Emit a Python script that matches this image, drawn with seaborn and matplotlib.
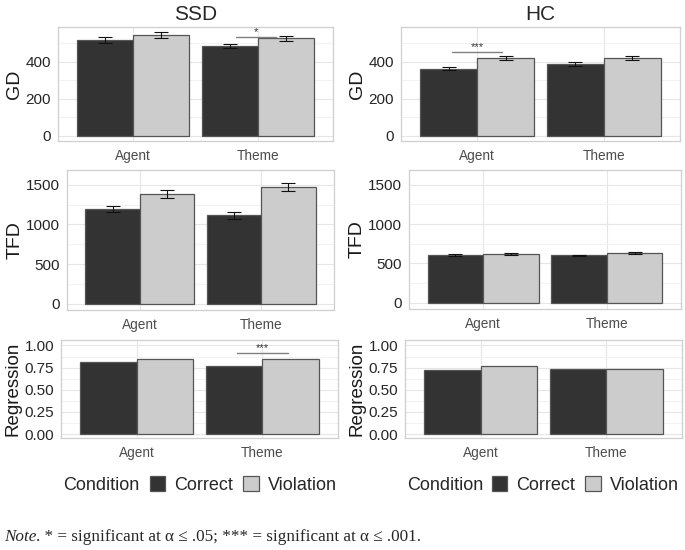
import itertools
import pandas as pd
import numpy as np
import matplotlib
matplotlib.use('Agg')
import matplotlib.pyplot as plt
import seaborn as sns
from matplotlib.patches import Patch

# categories
groups = ['SSD', 'HC']
roles = ['Agent', 'Theme']
conditions = ['Correct', 'Violation']

# values, order: Agent-Correct, Agent-Violation, Theme-Correct, Theme-Violation
ssd_gd = [517, 544, 485, 526]
ssd_gd_se = [17, 16, 11, 13]
hc_gd = [363, 421, 386, 421]
hc_gd_se = [6, 11, 11, 11]

ssd_tfd = [1197, 1382, 1117, 1470]
ssd_tfd_se = [42, 50, 42, 53]
hc_tfd = [607, 624, 603, 636]
hc_tfd_se = [12, 12, 8, 15]

ssd_reg = [0.808, 0.853, 0.771, 0.853]
hc_reg = [0.718, 0.767, 0.737, 0.737]

# significance marks: group, measure, role, bar from/to (relative to role), height, label
sig_marks = [
    ('SSD', 'GD', 'Theme', -0.18, 0.14, 535, '*'),
    ('HC', 'GD', 'Agent', -0.2, 0.2, 451, '***'),
    ('SSD', 'Regression', 'Theme', -0.2, 0.2, 0.917, '***'),
]

rows = []
data_by_group = {
    'SSD': (ssd_gd, ssd_gd_se, ssd_tfd, ssd_tfd_se, ssd_reg),
    'HC': (hc_gd, hc_gd_se, hc_tfd, hc_tfd_se, hc_reg),
}
for g in groups:
    gd, gd_se, tfd, tfd_se, reg = data_by_group[g]
    for i, (r, c) in enumerate(itertools.product(roles, conditions)):
        rows.append({'Group': g, 'Role': r, 'Condition': c,
                     'GD': gd[i], 'GD_se': gd_se[i],
                     'TFD': tfd[i], 'TFD_se': tfd_se[i],
                     'Regression': reg[i], 'Regression_se': np.nan})
df = pd.DataFrame(rows)

sns.set_style('white')
plt.rcParams['font.family'] = ['Liberation Sans', 'DejaVu Sans']

palette = {'Correct': '#333333', 'Violation': '#CCCCCC'}
W, H = 685, 550
fig = plt.figure(figsize=(W / 100, H / 100), dpi=100)


def px_rect(l, t, r, b):
    return [l / W, 1 - b / H, (r - l) / W, (b - t) / H]


# panel boxes in pixels (left, top, right, bottom)
boxes = {
    ('SSD', 'GD'): (58, 27, 333, 141),
    ('HC', 'GD'): (401, 27, 680, 141),
    ('SSD', 'TFD'): (67, 170, 334, 310),
    ('HC', 'TFD'): (409, 170, 681, 309),
    ('SSD', 'Regression'): (61, 340, 338, 438),
    ('HC', 'Regression'): (405, 340, 682, 438),
}
ylims = {'GD': (-28, 587), 'TFD': (-80, 1688), 'Regression': (-0.045, 1.062)}
major = {'GD': [0, 200, 400], 'TFD': [0, 500, 1000, 1500],
         'Regression': [0, 0.25, 0.5, 0.75, 1.0]}
minor = {'GD': [100, 300, 500], 'TFD': [250, 750, 1250],
         'Regression': [0.125, 0.375, 0.625, 0.875]}
ytick_size = {'GD': 11, 'TFD': 11, 'Regression': 11}
ylab_size = {'GD': 14, 'TFD': 14, 'Regression': 13.5}

for (g, m), box in boxes.items():
    ax = fig.add_axes(px_rect(*box))
    sub = df[df['Group'] == g]
    sns.barplot(data=sub, x='Role', y=m, hue='Condition', order=roles,
                hue_order=conditions, palette=palette, width=0.9,
                errorbar=None, edgecolor='#555555', linewidth=0.9,
                legend=False, ax=ax, zorder=2)
    # error bars from the summary SEs
    conts = list(ax.containers)
    for ci, cond in enumerate(conditions):
        for bar, role in zip(conts[ci].patches, roles):
            row = sub[(sub['Role'] == role) & (sub['Condition'] == cond)].iloc[0]
            if np.isnan(row[m + '_se']):
                continue
            xc = bar.get_x() + bar.get_width() / 2
            ax.errorbar(xc, row[m], yerr=row[m + '_se'], fmt='none',
                        ecolor='#111111', elinewidth=0.8, capsize=4.7,
                        capthick=0.8, zorder=3)
    ax.set_xlim(-0.6, 1.6)
    ax.set_ylim(*ylims[m])
    ax.set_yticks(major[m])
    ax.set_yticks(minor[m], minor=True)
    if m == 'Regression':
        ax.set_yticklabels([f'{v:.2f}' for v in major[m]])
    ax.grid(which='major', color='#E6E6E6', linewidth=0.8, zorder=0)
    ax.grid(which='minor', axis='y', color='#F0F0F0', linewidth=0.6, zorder=0)
    ax.set_axisbelow(True)
    for s in ax.spines.values():
        s.set_color('#CFCFCF')
        s.set_linewidth(0.9)
    ax.tick_params(axis='both', which='major', length=3, width=0.6,
                   color='#B3B3B3', pad=2)
    ax.tick_params(axis='both', which='minor', length=0)
    ax.tick_params(axis='y', labelsize=ytick_size[m], labelcolor='#262626')
    ax.tick_params(axis='x', labelsize=9.8, labelcolor='#4D4D4D', pad=3)
    ax.set_xlabel('')
    ax.set_ylabel(m, fontsize=ylab_size[m], color='#1A1A1A', labelpad=2)
    if m == 'GD':
        ax.set_title(g, fontsize=15, pad=5)

    for sg, sm, srole, x0, x1, y, lab in sig_marks:
        if sg == g and sm == m:
            xc = roles.index(srole)
            ax.plot([xc + x0, xc + x1], [y, y], color='#808080', lw=1, zorder=4)
            ax.text(xc + (x0 + x1) / 2, y, lab, ha='center', va='bottom',
                    fontsize=8, color='#333333')

# legends under each column
handles = [Patch(facecolor=palette[c], edgecolor='#555555', linewidth=0.9)
           for c in conditions]
for cond_x, box_x in [(63, 150), (407, 492)]:
    fig.text(cond_x / W, 1 - 485 / H, 'Condition', fontsize=13,
             ha='left', va='center')
    fig.legend(handles, conditions, loc='center left',
               bbox_to_anchor=(box_x / W, 1 - 485 / H), ncol=2,
               frameon=False, fontsize=13, handlelength=0.85,
               handleheight=0.85, handletextpad=0.5, columnspacing=0.55,
               borderpad=0, borderaxespad=0)

# note line, italic "Note" followed by the rest
serif = ['Liberation Serif', 'DejaVu Serif']
t1 = fig.text(4 / W, 1 - 537 / H, 'Note', fontsize=12.3, style='italic',
              family=serif, va='center')
fig.canvas.draw()
bb = t1.get_window_extent(fig.canvas.get_renderer())
fig.text(bb.x1 / W, 1 - 537 / H,
         '. * = significant at \u03b1 \u2264 .05; *** = significant at \u03b1 \u2264 .001.',
         fontsize=12.3, family=serif, va='center')

fig.savefig('out.png', dpi=100)
